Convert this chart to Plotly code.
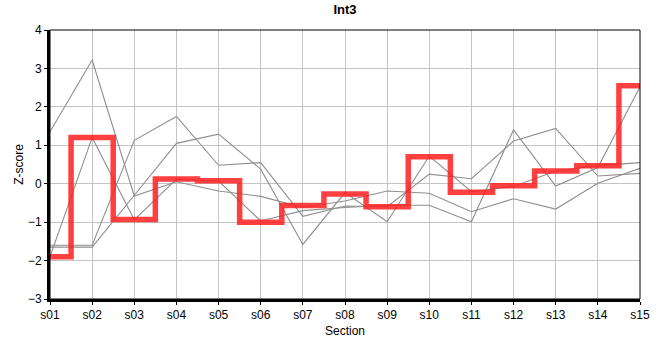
import plotly.graph_objects as go

sections = ["s01", "s02", "s03", "s04", "s05", "s06", "s07", "s08",
            "s09", "s10", "s11", "s12", "s13", "s14", "s15"]

# background profiles (grey)
line_a = [1.35, 3.22, -0.32, 0.05, -0.19, -0.33, -0.62, -0.45, -0.19, -0.25, -0.73, -0.39, -0.66, 0.01, 0.40]
line_b = [-1.90, 1.20, -0.94, 0.12, 0.07, -0.97, -0.70, -0.62, -0.56, -0.56, -0.99, 1.40, -0.06, 0.42, 2.52]
line_c = [-1.60, -1.60, 1.13, 1.75, 0.48, 0.55, -0.85, -0.58, -0.60, 0.25, 0.13, 1.11, 1.44, 0.20, 0.27]
line_d = [-1.65, -1.65, -0.30, 1.05, 1.29, 0.38, -1.58, -0.23, -0.99, 0.72, -0.21, -0.07, 0.33, 0.47, 0.55]

# highlighted profile (red step)
int3 = [-1.90, 1.20, -0.93, 0.12, 0.08, -1.00, -0.57, -0.27, -0.60, 0.70, -0.22, -0.05, 0.33, 0.47, 2.55]

y_ticks = [-3, -2, -1, 0, 1, 2, 3, 4]

fig = go.Figure()
for ys in (line_a, line_b, line_c, line_d):
    fig.add_trace(go.Scatter(x=sections, y=ys, mode="lines",
                             line=dict(color="#8f8f8f", width=1.1),
                             showlegend=False, hoverinfo="skip"))

fig.add_trace(go.Scatter(x=sections, y=int3, mode="lines",
                         line=dict(color="rgba(255,30,30,0.85)", width=5.5, shape="hvh"),
                         showlegend=False))

fig.update_layout(
    width=660, height=360,
    margin=dict(l=50, r=10, t=30, b=61),
    paper_bgcolor="white", plot_bgcolor="white",
    font=dict(family="Liberation Sans, Arial, sans-serif", size=12, color="black"),
    title=dict(text="<b>Int3</b>", x=0.5, xanchor="center", xref="paper",
               yref="container", y=1 - 9 / 360, yanchor="middle",
               font=dict(size=13, color="black")),
    xaxis=dict(
        type="category", range=[0, len(sections) - 1],
        showgrid=True, gridcolor="#c4c4c4", gridwidth=1,
        showline=True, linecolor="black", linewidth=3,
        ticks="outside", ticklen=3, tickcolor="black", tickwidth=1,
        title=dict(text="Section", font=dict(size=12), standoff=6),
        tickfont=dict(size=12), zeroline=False,
    ),
    yaxis=dict(
        range=[-3, 4], tickvals=y_ticks,
        showgrid=True, gridcolor="#c4c4c4", gridwidth=1,
        showline=True, linecolor="black", linewidth=3,
        ticks="outside", ticklen=3, tickcolor="black", tickwidth=1,
        title=dict(text="Z-score", font=dict(size=12), standoff=2),
        tickfont=dict(size=12), zeroline=False,
    ),
    shapes=[dict(type="rect", xref="paper", yref="paper", x0=0, y0=0, x1=1, y1=1,
                 line=dict(color="black", width=1), layer="above")],
)

fig.write_html("out.html",
               config={"displayModeBar": False},
               post_script="document.body.style.margin='0';document.body.style.overflow='hidden';")
